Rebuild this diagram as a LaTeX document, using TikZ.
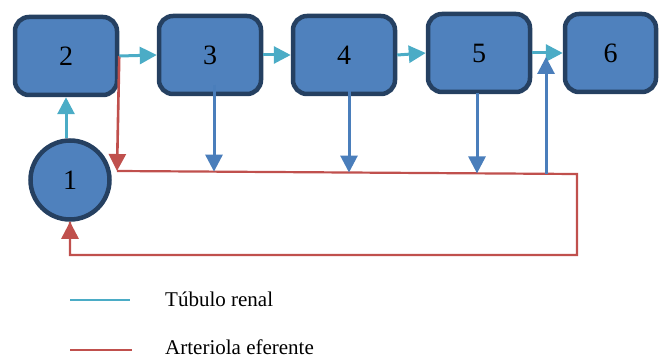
\documentclass[tikz,border=0pt]{standalone}
\usepackage{fontspec}
\setmainfont{Liberation Serif}
\usetikzlibrary{arrows.meta,calc}
\definecolor{boxfill}{HTML}{4F81BD}
\definecolor{boxline}{HTML}{254061}
\definecolor{tubcol}{HTML}{4BACC6}
\definecolor{bluecol}{HTML}{4A7EBB}
\definecolor{redcol}{HTML}{C0504D}
\tikzset{
  stagebox/.style={draw=boxline, fill=boxfill, line width=4.5pt, rounded corners=14pt,
    minimum width=102pt, minimum height=78pt, inner sep=0pt,
    font=\fontsize{28}{30}\selectfont},
  glom/.style={draw=boxline, fill=boxfill, line width=4.5pt, circle, minimum size=79pt,
    inner sep=0pt, font=\fontsize{28}{30}\selectfont},
  tip/.style={-{Triangle[length=17pt,width=17pt]}},
  tubarrow/.style={draw=tubcol, line width=3pt, tip},
  bluearrow/.style={draw=bluecol, line width=3pt, tip},
  redline/.style={draw=redcol, line width=2.6pt},
  legtext/.style={anchor=west, font=\fontsize{21}{24}\selectfont, inner sep=0pt}
}
\begin{document}
\begin{tikzpicture}[x=1pt,y=-1pt]
\useasboundingbox (0,0) rectangle (660,358);
% nodes
\node[glom] (n1) at (70,180) {1};
\node[stagebox] (n2) at (66,56) {2};
\node[stagebox] (n3) at (210,55) {3};
\node[stagebox] (n4) at (344,55) {4};
\node[stagebox] (n5) at (479,53) {5};
\node[stagebox, minimum width=91pt] (n6) at (610.5,53) {6};
% red path coordinates
\coordinate (r0) at (117,171);
\coordinate (r1) at (577,174);
\coordinate (r2) at (577,255);
\coordinate (r3) at (70,255);
% blue arrow coordinates
\coordinate (s3) at (214,85);
\coordinate (t3) at (214,171.6);
\coordinate (s4) at (349,91);
\coordinate (t4) at (349,172.5);
\coordinate (s5) at (477,93);
\coordinate (t5) at (477,173.4);
\coordinate (u0) at (546,173.6);
\coordinate (u1) at (546,57);
% red connectors
\draw[redline, tip] (n2.east) -- (r0);
\draw[redline, line width=2.2pt, line join=miter] (r0) -- (r1) -- (r2) -- (r3) -- (n1.south);
\draw[redline, tip] (r3) -- (n1.south);
% tubule connectors
\draw[tubarrow] (n2.south |- n1.north) -- (n2.south);
\draw[tubarrow] (n2.east) -- (n3.west);
\draw[tubarrow] (n3.east) -- (n4.west);
\draw[tubarrow] (n4.east) -- (n5.west);
\draw[tubarrow] (n5.east) -- (n6.west);
% blue connectors
\draw[bluearrow] (s3) -- (t3);
\draw[bluearrow] (s4) -- (t4);
\draw[bluearrow] (s5) -- (t5);
\draw[bluearrow] (u0) -- (u1);
% legend
\coordinate (la0) at (70,300);
\coordinate (la1) at (130,300);
\coordinate (lb0) at (70,350);
\coordinate (lb1) at (132,350);
\draw[draw=tubcol, line width=2.4pt] (la0) -- (la1);
\draw[draw=redcol, line width=2.4pt] (lb0) -- (lb1);
\node[legtext] (l1) at (165,299) {Túbulo renal};
\node[legtext] (l2) at (165,347) {Arteriola eferente};
\end{tikzpicture}
\end{document}
